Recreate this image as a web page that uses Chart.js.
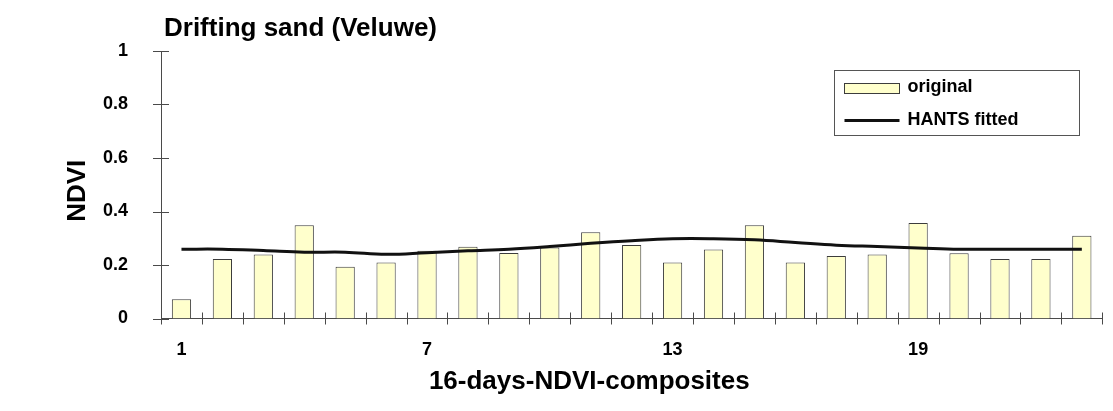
<!DOCTYPE html>
<html>
<head>
<meta charset="utf-8">
<script src="https://cdn.jsdelivr.net/npm/chart.js@4.4.1/dist/chart.umd.min.js"></script>
<style>
  html, body { margin: 0; padding: 0; background: #ffffff; }
  #wrap { width: 1113px; height: 411px; position: relative; }
</style>
</head>
<body>
<div id="wrap"><canvas id="c" width="1113" height="411"></canvas></div>
<script>
// ---- data ----
const categories = ['1','2','3','4','5','6','7','8','9','10','11','12','13','14','15','16','17','18','19','20','21','22','23'];
const shownXTicks = ['1','7','13','19'];
const originalNDVI = [0.072,0.222,0.239,0.349,0.193,0.209,0.253,0.268,0.245,0.265,0.322,0.275,0.209,0.258,0.349,0.209,0.234,0.239,0.357,0.244,0.222,0.222,0.309];
const hantsFitted = [0.259,0.259,0.254,0.248,0.248,0.240,0.246,0.253,0.259,0.269,0.281,0.291,0.298,0.298,0.294,0.284,0.274,0.269,0.264,0.259,0.259,0.259,0.259];
const chartTitle = 'Drifting sand (Veluwe)';
const xTitle = '16-days-NDVI-composites';
const yTitle = 'NDVI';
const seriesNames = ['original', 'HANTS fitted'];

const FONT = '"Liberation Sans", Arial, Helvetica, sans-serif';
const AXIS_COLOR = '#4a4a4a';

const decorPlugin = {
  id: 'decor',
  afterDraw(chart) {
    const ctx = chart.ctx;
    const ca = chart.chartArea;
    const xs = chart.scales.x, ys = chart.scales.y;
    ctx.save();
    // crossing tick marks on y axis
    ctx.strokeStyle = AXIS_COLOR;
    ctx.lineWidth = 1;
    ys.ticks.forEach(t => {
      const y = Math.round(ys.getPixelForValue(t.value)) + 0.5;
      ctx.beginPath();
      ctx.moveTo(ca.left - 8, y);
      ctx.lineTo(ca.left + 8, y);
      ctx.stroke();
    });
    // crossing tick marks on x axis at category boundaries
    const n = categories.length;
    for (let k = 0; k <= n; k++) {
      const x = Math.round(xs.left + k * (xs.right - xs.left) / n) + 0.5;
      ctx.beginPath();
      ctx.moveTo(x, ca.bottom - 6);
      ctx.lineTo(x, ca.bottom + 6);
      ctx.stroke();
    }
    // chart title
    ctx.fillStyle = '#000';
    ctx.font = 'bold 26px ' + FONT;
    ctx.textAlign = 'left';
    ctx.textBaseline = 'alphabetic';
    ctx.fillText(chartTitle, ca.left + 3, ca.top - 15);
    // x axis title
    ctx.textAlign = 'center';
    ctx.fillText(xTitle, ca.left + (ca.right - ca.left) * 0.455, ca.bottom + 70);
    // y axis title
    ctx.save();
    ctx.translate(ca.left - 76, (ca.top + ca.bottom) / 2 + 6);
    ctx.rotate(-Math.PI / 2);
    ctx.textAlign = 'center';
    ctx.fillText(yTitle, 0, 0);
    ctx.restore();
    // legend box
    const bw = 245, bh = 65;
    const bx = Math.round(ca.right - 23 - bw) + 0.5, by = Math.round(ca.top + 19) + 0.5;
    ctx.fillStyle = '#fff';
    ctx.fillRect(bx, by, bw, bh);
    ctx.strokeStyle = '#555';
    ctx.lineWidth = 1;
    ctx.strokeRect(bx, by, bw, bh);
    const d0 = chart.data.datasets[0], d1 = chart.data.datasets[1];
    // bar swatch
    ctx.fillStyle = d0.backgroundColor;
    ctx.fillRect(bx + 10, by + 13, 55, 10);
    ctx.strokeStyle = d0.borderColor;
    ctx.strokeRect(bx + 10, by + 13, 55, 10);
    // line swatch
    ctx.strokeStyle = d1.borderColor;
    ctx.lineWidth = 3;
    ctx.beginPath();
    ctx.moveTo(bx + 10, by + 50);
    ctx.lineTo(bx + 65, by + 50);
    ctx.stroke();
    ctx.fillStyle = '#000';
    ctx.font = 'bold 18px ' + FONT;
    ctx.textAlign = 'left';
    ctx.textBaseline = 'middle';
    ctx.fillText(d0.label, bx + 73, by + 17);
    ctx.fillText(d1.label, bx + 73, by + 50);
    ctx.restore();
  }
};

new Chart(document.getElementById('c'), {
  type: 'bar',
  data: {
    labels: categories,
    datasets: [
      {
        type: 'bar',
        label: seriesNames[0],
        data: originalNDVI,
        backgroundColor: '#FFFFCC',
        borderColor: '#3c3c3c',
        borderWidth: 1,
        barPercentage: 0.47,
        categoryPercentage: 1.0,
        order: 2
      },
      {
        type: 'line',
        label: seriesNames[1],
        data: hantsFitted,
        borderColor: '#111111',
        borderWidth: 3,
        pointRadius: 0,
        tension: 0.4,
        fill: false,
        order: 1
      }
    ]
  },
  options: {
    responsive: false,
    animation: false,
    devicePixelRatio: 1,
    layout: { padding: { left: 0, right: 10.7, top: 51, bottom: 0 } },
    plugins: {
      legend: { display: false },
      title: { display: false },
      tooltip: { enabled: false }
    },
    scales: {
      x: {
        offset: true,
        grid: { display: false, offset: true },
        border: { display: true, color: AXIS_COLOR, width: 1 },
        ticks: {
          autoSkip: false,
          maxRotation: 0,
          padding: 13,
          color: '#000',
          font: { family: FONT, size: 18, weight: 'bold' },
          callback: function (v, i) {
            const lab = categories[i];
            return shownXTicks.includes(lab) ? lab : '';
          }
        },
        afterFit: function (scale) { scale.height = 92.5; }
      },
      y: {
        min: 0,
        max: 1,
        grid: { display: false },
        border: { display: true, color: AXIS_COLOR, width: 1 },
        ticks: {
          stepSize: 0.2,
          padding: 25,
          color: '#000',
          font: { family: FONT, size: 18, weight: 'bold' },
          callback: function (v) { return String(Number(v.toFixed(1))); }
        },
        afterFit: function (scale) { scale.width = 161; }
      }
    }
  },
  plugins: [decorPlugin]
});
</script>
</body>
</html>
